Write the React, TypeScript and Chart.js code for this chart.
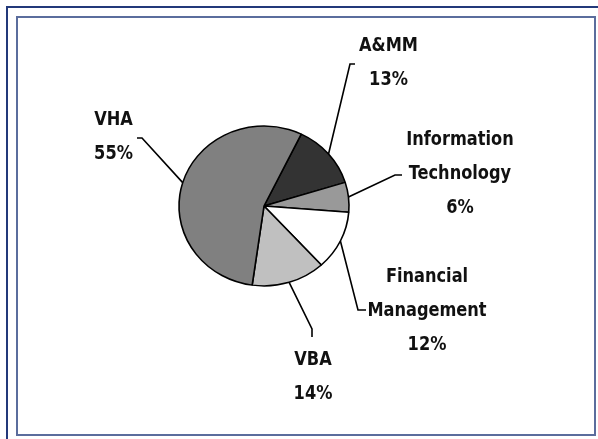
import React, { useEffect, useRef } from 'react';
import { Chart, registerables } from 'chart.js';

Chart.register(...registerables);

// ---- data ----
const categoryLines: string[][] = [
  ['A&MM'],
  ['Information', 'Technology'],
  ['Financial', 'Management'],
  ['VBA'],
  ['VHA'],
];
const shares: number[] = [13, 6, 12, 14, 55];
const sliceColors: string[] = ['#333333', '#999999', '#ffffff', '#c0c0c0', '#808080'];

// ---- label layout (positions only) ----
const labelLayout = [
  { x: 388.5, y: 51, elbow: [350, 64], end: [355, 64] },
  { x: 460, y: 145, elbow: [395, 175], end: [402, 175] },
  { x: 427, y: 282, elbow: [358, 310], end: [366, 310] },
  { x: 313, y: 365, elbow: [312, 329], end: [312, 337] },
  { x: 113.5, y: 125, elbow: [142, 138], end: [137, 138] },
];
const LINE_GAP = 34;
const Y_SCALE = 0.94;
const TEXT_X_SCALE = 0.9;
const FONT = 'bold 20px "Liberation Sans Narrow", "DejaVu Sans Condensed", "Arial Narrow", sans-serif';

const ellipsePlugin = {
  id: 'ellipse',
  beforeDatasetsDraw(chart: any) {
    const arc = chart.getDatasetMeta(0).data[0];
    if (!arc) return;
    const { x, y } = arc;
    const ctx = chart.ctx;
    ctx.save();
    ctx.translate(x, y);
    ctx.scale(1, Y_SCALE);
    ctx.translate(-x, -y);
  },
  afterDatasetsDraw(chart: any) {
    chart.ctx.restore();
  },
};

const labelPlugin = {
  id: 'leaderLabels',
  afterDraw(chart: any) {
    const ctx = chart.ctx;
    const meta = chart.getDatasetMeta(0);
    meta.data.forEach((arc: any, i: number) => {
      const p = arc.getProps(['x', 'y', 'startAngle', 'endAngle', 'outerRadius'], true);
      const mid = (p.startAngle + p.endAngle) / 2;
      const ex = p.x + Math.cos(mid) * p.outerRadius;
      const ey = p.y + Math.sin(mid) * p.outerRadius * Y_SCALE;
      const L = labelLayout[i];
      ctx.save();
      ctx.strokeStyle = '#000';
      ctx.lineWidth = 1.6;
      ctx.beginPath();
      ctx.moveTo(ex, ey);
      ctx.lineTo(L.elbow[0], L.elbow[1]);
      ctx.lineTo(L.end[0], L.end[1]);
      ctx.stroke();
      ctx.fillStyle = '#111';
      ctx.font = FONT;
      ctx.textAlign = 'center';
      ctx.textBaseline = 'alphabetic';
      const lines = [...categoryLines[i], `${shares[i]}%`];
      lines.forEach((t, k) => {
        ctx.save();
        ctx.translate(L.x, L.y + k * LINE_GAP);
        ctx.scale(TEXT_X_SCALE, 1);
        ctx.fillText(t, 0, 0);
        ctx.restore();
      });
      ctx.restore();
    });
  },
};

export default function App() {
  const ref = useRef<HTMLCanvasElement>(null);
  useEffect(() => {
    if (!ref.current) return;
    const chart = new Chart(ref.current, {
      type: 'pie',
      data: {
        labels: categoryLines.map((l) => l.join(' ')),
        datasets: [
          {
            data: shares,
            backgroundColor: sliceColors,
            borderColor: '#000',
            borderWidth: 1.6,
          },
        ],
      },
      options: {
        animation: false,
        responsive: true,
        maintainAspectRatio: false,
        events: [],
        rotation: 26,
        radius: 85,
        layout: { padding: { left: 0, right: 70, top: 0, bottom: 27 } },
        plugins: { legend: { display: false }, tooltip: { enabled: false } },
      } as any,
      plugins: [ellipsePlugin, labelPlugin],
    });
    return () => chart.destroy();
  }, []);

  return (
    <div style={{ position: 'fixed', left: 0, top: 0, width: 598, height: 439, background: '#fff', overflow: 'hidden' }}>
      <div style={{ position: 'absolute', left: 6, top: 6, width: 620, height: 460, borderLeft: '2px solid #23397a', borderTop: '2px solid #23397a' }} />
      <div style={{ position: 'absolute', left: 16, top: 16, width: 576, height: 416, border: '2px solid #5b6d9d' }} />
      <canvas ref={ref} style={{ position: 'absolute', left: 0, top: 0, width: 598, height: 439 }} />
    </div>
  );
}
